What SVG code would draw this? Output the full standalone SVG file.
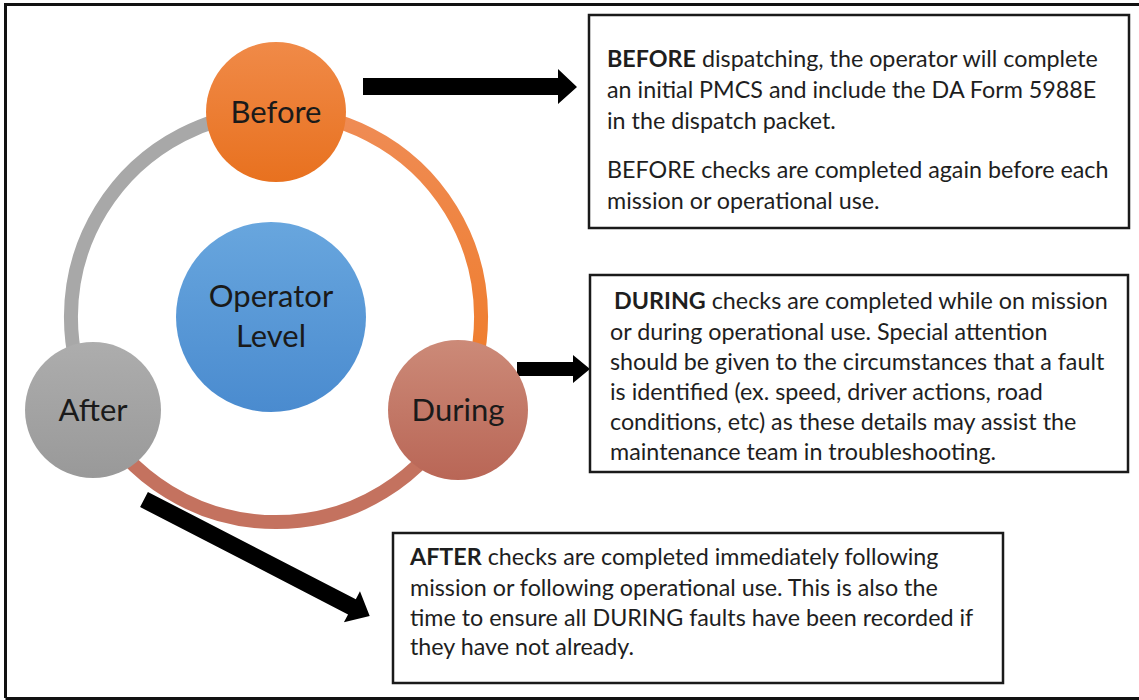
<svg xmlns="http://www.w3.org/2000/svg" width="1139" height="700" viewBox="0 0 1139 700">
<defs>
<linearGradient id="gOrange" x1="0" y1="0" x2="0" y2="1"><stop offset="0" stop-color="#F08A48"/><stop offset="1" stop-color="#E8711F"/></linearGradient>
<linearGradient id="gDuring" x1="0" y1="0" x2="0" y2="1"><stop offset="0" stop-color="#CC8A78"/><stop offset="1" stop-color="#B96656"/></linearGradient>
<linearGradient id="gAfter" x1="0" y1="0" x2="0" y2="1"><stop offset="0" stop-color="#ADADAD"/><stop offset="1" stop-color="#999999"/></linearGradient>
<linearGradient id="gBlue" x1="0" y1="0" x2="0" y2="1"><stop offset="0" stop-color="#68A6DE"/><stop offset="1" stop-color="#4A8BCF"/></linearGradient>
<linearGradient id="gArcO" x1="0" y1="0" x2="0" y2="1"><stop offset="0" stop-color="#EF8C55"/><stop offset="1" stop-color="#EF7A25"/></linearGradient>
</defs>
<style>
.frame{fill:none;stroke:#111;stroke-width:3}
.box{fill:#fff;stroke:#1a1a1a;stroke-width:2.5}
.lbl{font-family:Lato,"Liberation Sans",sans-serif;font-size:31px;fill:#1a1a1a;text-anchor:middle}
.txt{font-family:Lato,"Liberation Sans",sans-serif;font-size:23.3px;fill:#1e1e1e}
.b{font-weight:bold}
.arc{fill:none;stroke-width:14}
.arrow{fill:#000}
</style>
<rect width="1139" height="700" fill="#fff"/>
<path class="frame" d="M5.5 698 V4.5 H1139"/>
<path class="frame" d="M5.5 698.5 H1139"/>

<g id="ring">
<path class="arc" stroke="url(#gArcO)" d="M276 112 A205 205 0 0 1 458.7 410.1"/>
<path class="arc" stroke="#C4725F" d="M458.7 410.1 A205 205 0 0 1 93.3 410.1"/>
<path class="arc" stroke="#A8A8A8" d="M93.3 410.1 A205 205 0 0 1 276 112"/>
</g>

<g id="connectors">
<polygon class="arrow" points="363,78 558,78 558,69 577,87 558,104 558,95 363,95"/>
<polygon class="arrow" points="517,362 573,362 573,355 590,369 573,383 573,376 517,376"/>
<polygon class="arrow" transform="translate(144,499.5) rotate(27.3)" points="0,-8.5 234,-8.5 234,-17.5 254,0 234,17.5 234,8.5 0,8.5"/>
</g>

<g id="node-operator">
<circle cx="271" cy="317" r="95" fill="url(#gBlue)"/>
<text class="lbl" x="271" y="307">Operator</text>
<text class="lbl" x="271" y="347">Level</text>
</g>
<g id="node-before">
<circle cx="276" cy="112" r="70" fill="url(#gOrange)"/>
<text class="lbl" x="276" y="123">Before</text>
</g>
<g id="node-during">
<circle cx="458" cy="410" r="70" fill="url(#gDuring)"/>
<text class="lbl" x="458" y="421">During</text>
</g>
<g id="node-after">
<circle cx="93" cy="410" r="68" fill="url(#gAfter)"/>
<text class="lbl" x="93" y="421">After</text>
</g>

<g id="box-before">
<rect class="box" x="589" y="15" width="540" height="213"/>
<text class="txt" x="607" y="67"><tspan class="b">BEFORE</tspan> dispatching, the operator will complete</text>
<text class="txt" x="607" y="98">an initial PMCS and include the DA Form 5988E</text>
<text class="txt" x="607" y="129">in the dispatch packet.</text>
<text class="txt" x="607" y="178">BEFORE checks are completed again before each</text>
<text class="txt" x="607" y="209">mission or operational use.</text>
</g>
<g id="box-during">
<rect class="box" x="590" y="275" width="538" height="197"/>
<text class="txt" x="614" y="309"><tspan class="b">DURING</tspan> checks are completed while on mission</text>
<text class="txt" x="610" y="340">or during operational use. Special attention</text>
<text class="txt" x="610" y="370">should be given to the circumstances that a fault</text>
<text class="txt" x="610" y="400">is identified (ex. speed, driver actions, road</text>
<text class="txt" x="610" y="430">conditions, etc) as these details may assist the</text>
<text class="txt" x="610" y="460">maintenance team in troubleshooting.</text>
</g>
<g id="box-after">
<rect class="box" x="393" y="533" width="610" height="150"/>
<text class="txt" x="410" y="565"><tspan class="b">AFTER</tspan> checks are completed immediately following</text>
<text class="txt" x="410" y="596">mission or following operational use. This is also the</text>
<text class="txt" x="410" y="626">time to ensure all DURING faults have been recorded if</text>
<text class="txt" x="410" y="655">they have not already.</text>
</g>
</svg>
